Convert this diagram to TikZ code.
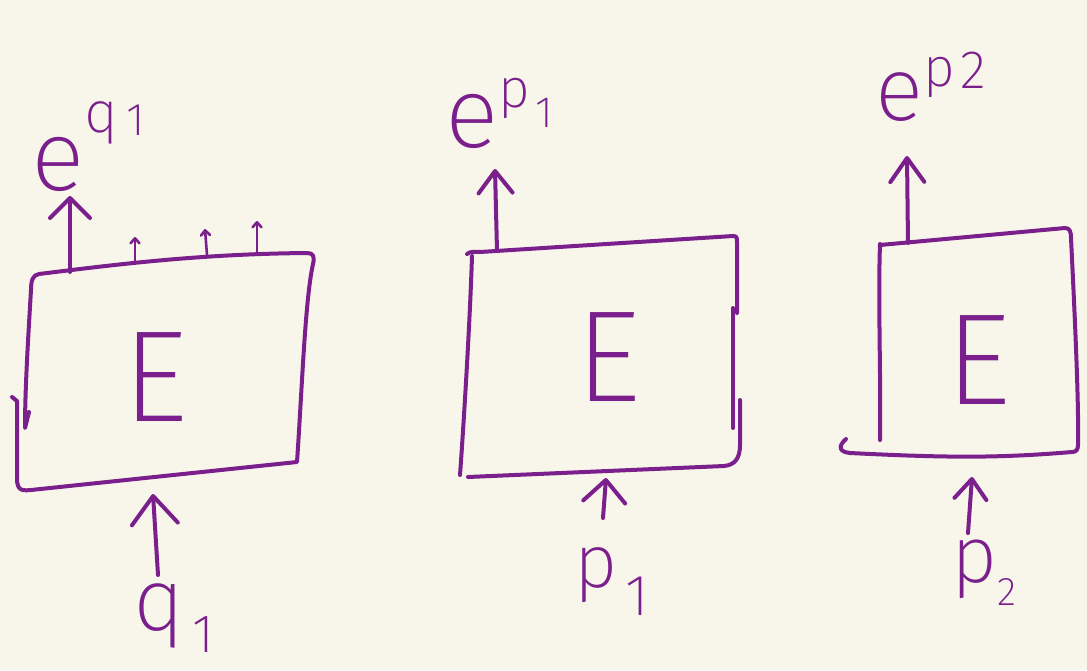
\documentclass[tikz,border=0pt]{standalone}
\usepackage{fontspec}
\usetikzlibrary{arrows.meta}
% a light face for the hand-lettered labels, falling back to the regular one
\IfFontExistsTF{Fira Sans ExtraLight}
  {\newfontfamily\handfont{Fira Sans ExtraLight}}
  {\IfFontExistsTF{Fira Sans Light}
    {\newfontfamily\handfont{Fira Sans Light}}
    {\IfFontExistsTF{FiraSans-Light.otf}
      {\newfontfamily\handfont{FiraSans-Light.otf}}
      {\newfontfamily\handfont{Fira Sans}}}}
\definecolor{ink}{HTML}{7B1F8C}
\definecolor{paper}{HTML}{F8F6EB}
\newcommand\setfs[1]{\fontsize{#1}{#1}\selectfont}

\begin{document}
\begin{tikzpicture}[x=1pt,y=-1pt,line cap=round,line join=round,
  stroke/.style={draw=ink,line width=4pt},
  arr/.style 2 args={stroke,-{Straight Barb[length=#1,width=#2,round]}},
  tick/.style={draw=ink,line width=2.6pt,-{Straight Barb[length=5pt,width=9pt,round]}},
  bigE/.style={text=ink,font=\handfont\setfs{130},inner sep=0pt},
  lab/.style={text=ink,font=\handfont,inner sep=0pt,anchor=base west}]

% paper
\fill[paper] (0,0) rectangle (1087,670);
\useasboundingbox (0,0) rectangle (1087,670);

% ---------- first box ----------
\draw[stroke] (12,397) -- (17,401) -- (17,478)
  .. controls (17,490) and (21,491) .. (31,490) -- (297,462)
  .. controls (302,390) and (305,300) .. (313,264)
  .. controls (315,256) and (313,253) .. (307,253)
  .. controls (200,254) and (120,264) .. (39,274)
  .. controls (33,275) and (31,280) .. (31,290)
  .. controls (28,340) and (25,390) .. (25,428) -- (29,412);
\node[bigE] (E1) at (155,377) {E};

\coordinate (o1) at (70,272);   \coordinate (h1) at (70,196);
\coordinate (s1) at (135,263);  \coordinate (sh1) at (135,237);
\coordinate (s2) at (207,255);  \coordinate (sh2) at (205,229);
\coordinate (s3) at (257,254);  \coordinate (sh3) at (257,221);
\coordinate (i1) at (158,575);  \coordinate (ih1) at (153,494);
\draw[arr={20pt}{40pt}] (o1) -- (h1);
\draw[tick] (s1) -- (sh1);
\draw[tick] (s2) -- (sh2);
\draw[tick] (s3) -- (sh3);
\draw[arr={28pt}{46pt}] (i1) -- (ih1);

\node[lab] (eq1) at (31,190)
  {\setfs{100}e\raisebox{58pt}{\setfs{58}q\kern8pt\raisebox{-3pt}{\setfs{46}1}}};
\node[lab] (q1) at (133,630)
  {\setfs{88}q\kern8pt\raisebox{-22pt}{\setfs{54}1}};

% ---------- second box ----------
\draw[stroke] (460,475) .. controls (464,420) and (470,320) .. (472,256);
\draw[stroke] (467,254) .. controls (470,251) and (476,252) .. (480,252) -- (733,236)
  .. controls (737,236) and (737,238) .. (737,242) -- (737,313);
\draw[stroke] (733,308) -- (733,428);
\draw[stroke] (740,400) -- (740,445)
  .. controls (740,458) and (735,465) .. (724,466) -- (468,477);
\node[bigE] (E2) at (608,357) {E};

\coordinate (o2) at (497,251);  \coordinate (h2) at (495,169);
\coordinate (i2) at (603,518);  \coordinate (ih2) at (606,478);
\draw[arr={22pt}{34pt}] (o2) -- (h2);
\draw[arr={22pt}{42pt}] (i2) -- (ih2);

\node[lab] (ep1) at (445,147)
  {\setfs{100}e\raisebox{40pt}{\setfs{55}p\kern5pt\raisebox{-20pt}{\setfs{44}1}}};
\node[lab] (p1) at (574,587)
  {\setfs{75}p\kern8pt\raisebox{-28pt}{\setfs{58}1}};

% ---------- third box ----------
\draw[stroke] (880,440) .. controls (881,380) and (878,300) .. (880,244);
\draw[stroke] (880,245) -- (1065,228)
  .. controls (1070,228) and (1071,232) .. (1071,238)
  .. controls (1074,300) and (1079,400) .. (1078,445)
  .. controls (1078,450) and (1076,452) .. (1072,452)
  .. controls (1000,458) and (950,458) .. (850,453)
  .. controls (840,452) and (837,447) .. (846,439);
\node[bigE] (E3) at (978,360) {E};

\coordinate (o3) at (908,243);  \coordinate (h3) at (907,156);
\coordinate (i3) at (968,533);  \coordinate (ih3) at (972,477);
\draw[arr={24pt}{34pt}] (o3) -- (h3);
\draw[arr={20pt}{32pt}] (i3) -- (ih3);

\node[lab] (ep2) at (875,120)
  {\setfs{90}e\raisebox{34pt}{\setfs{55}p\kern6pt\raisebox{-2pt}{\setfs{54}2}}};
\node[lab] (p2) at (951,582)
  {\setfs{80}p\kern0pt\raisebox{-23pt}{\setfs{40}2}};
\end{tikzpicture}
\end{document}
